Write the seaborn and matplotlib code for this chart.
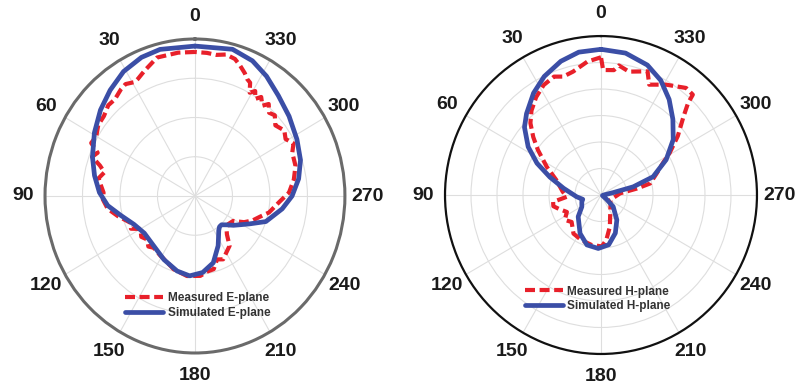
import numpy as np
import pandas as pd
import matplotlib
matplotlib.use("Agg")
import matplotlib.pyplot as plt
import seaborn as sns

sns.set_style("white")
plt.rcParams["font.family"] = ["Liberation Sans", "DejaVu Sans"]
plt.rcParams["font.weight"] = "bold"

# angle tick labels (degrees, counter-clockwise from the top)
angle_ticks = list(range(0, 360, 30))
angle_labels = [str(a) for a in angle_ticks]

# E-plane, simulated (deg, dB)
e_sim_deg = [0, 14, 22, 31, 40, 49, 59, 70, 79, 88, 96, 104, 114, 125, 139, 153,
             166, 176, 186, 196, 206, 211, 216, 220, 224, 229, 234, 239, 244, 251,
             262, 270, 279, 288, 298, 309, 319, 328, 336, 345]
e_sim_db = [-1.8, -1.5, -1.9, -3.0, -4.8, -6.6, -8.7, -10.9, -12.7, -14.5, -16.6,
            -19.6, -22.2, -23.5, -23.2, -21.8, -20.3, -19.6, -20.4, -22.3, -25.9,
            -27.8, -29.2, -29.8, -29.8, -28.8, -27.3, -25.8, -23.8, -20.0, -16.5,
            -14.1, -12.0, -10.4, -9.2, -7.7, -6.1, -4.0, -2.3, -1.3]

# E-plane, measured (deg, dB)
e_meas_deg = [0, 7, 16, 20, 23, 27, 29, 33, 36, 41, 45, 50, 55, 60, 64, 67, 70, 73,
              76, 80, 84, 88, 92, 98, 104, 112, 116, 120, 126, 131, 136, 140, 149,
              156, 163, 174, 184, 190, 195, 200, 205, 211, 216, 221, 225, 231, 238,
              243, 248, 253, 258, 266, 272, 279, 286, 293, 297, 301, 305, 310, 314,
              317, 320, 322, 325, 327, 329, 331, 333, 335, 337, 340, 343, 347, 351,
              355]
e_meas_db = [-3.3, -3.2, -3.3, -4.6, -5.4, -6.5, -6.8, -6.0, -6.4, -7.4, -7.3, -8.3,
             -8.5, -9.6, -9.2, -11.8, -10.8, -13.5, -15.1, -13.9, -14.8, -15.6,
             -15.4, -16.5, -18.8, -21.6, -21.0, -23.2, -22.3, -23.1, -22.1, -22.8,
             -22.2, -21.6, -20.5, -19.5, -19.6, -20.5, -20.7, -22.8, -22.2, -23.5,
             -24.3, -27.0, -28.1, -28.6, -28.0, -25.3, -23.4, -21.9, -19.8, -17.5,
             -14.9, -13.3, -12.1, -11.8, -10.5, -11.8, -10.9, -12.0, -10.4, -11.0,
             -9.4, -10.8, -9.2, -10.5, -8.8, -9.9, -7.6, -7.1, -6.0, -4.7, -3.5,
             -3.0, -3.6, -3.4]

# H-plane, simulated (deg, dB)
h_sim_deg = [0, 9, 17, 26, 34, 43, 49, 57, 64, 71, 80, 94, 103, 109, 121, 133, 151,
             164, 177, 189, 201, 213, 227, 233, 250, 270, 281, 284, 289, 298, 307,
             316, 324, 332, 340, 350]
h_sim_db = [-2.5, -2.7, -3.6, -5.1, -6.8, -9.0, -10.5, -13.3, -16.3, -19.6, -22.7,
            -25.3, -26.4, -26.1, -25.7, -24.0, -21.7, -20.2, -19.9, -20.5, -22.3,
            -24.4, -26.8, -28.7, -29.7, -29.5, -27.6, -23.6, -19.4, -15.8, -12.6,
            -10.1, -7.7, -5.5, -3.9, -2.8]

# H-plane, measured (deg, dB)
h_meas_deg = [0, 6, 13, 18, 22, 28, 34, 40, 45, 50, 55, 63, 72, 85, 93, 98, 103, 108,
              116, 124, 132, 144, 156, 169, 181, 187, 196, 207, 225, 242, 275, 280,
              283, 291, 297, 301, 307, 313, 316, 317, 321, 329, 336, 339, 347, 352,
              354, 359]
h_meas_db = [-4.0, -4.7, -6.1, -6.5, -5.9, -6.5, -7.7, -9.2, -10.8, -13.0, -15.2,
             -18.3, -21.0, -22.6, -23.4, -20.7, -20.6, -21.5, -22.7, -21.6, -22.4,
             -21.0, -20.7, -20.4, -20.3, -21.5, -23.8, -26.1, -27.4, -28.0, -26.3,
             -23.0, -20.3, -18.5, -16.6, -14.6, -11.5, -8.3, -5.9, -4.1, -4.0, -5.7,
             -7.2, -5.0, -6.1, -5.3, -6.3, -6.4]

RED = "#e8202a"
BLUE = "#3b4ea6"


def closed_frame(deg, gain):
    d = list(deg) + [deg[0] + 360]
    g = list(gain) + [gain[0]]
    return pd.DataFrame({"theta": np.deg2rad(d), "gain": g})


fig = plt.figure(figsize=(8.04, 3.92), dpi=100)
ax_e = fig.add_axes([0.056, 0.0995, 0.373, 0.801], projection="polar")
ax_h = fig.add_axes([0.5535, 0.097, 0.388, 0.811], projection="polar")


def draw_pattern(ax, meas_deg, meas_db, sim_deg, sim_db, meas_label, sim_label):
    sns.lineplot(data=closed_frame(meas_deg, meas_db), x="theta", y="gain",
                 sort=False, estimator=None, ax=ax, color=RED, linewidth=3.0,
                 linestyle=(0, (2.4, 1.1)), label=meas_label, zorder=3)
    sns.lineplot(data=closed_frame(sim_deg, sim_db), x="theta", y="gain",
                 sort=False, estimator=None, ax=ax, color=BLUE, linewidth=3.4,
                 label=sim_label, zorder=4)


def style_polar(ax, rmin, rings, edge_color, edge_width, legend_xy):
    ax.set_aspect("auto")
    ax.set_theta_zero_location("N")
    ax.set_theta_direction(1)
    ax.set_ylim(rmin, 0)
    ax.set_rgrids(rings, labels=[""] * len(rings))
    ax.set_thetagrids(angle_ticks, labels=angle_labels)
    for lab in ax.get_xticklabels():
        lab.set_fontsize(14)
        lab.set_fontweight("bold")
        lab.set_color("#1a1a1a")
    ax.grid(True, color="#dedede", linewidth=0.8)
    ax.spines["polar"].set_color(edge_color)
    ax.spines["polar"].set_linewidth(edge_width)
    ax.tick_params(axis="x", pad=9, length=0)
    ax.set_xlabel("")
    ax.set_ylabel("")
    leg = ax.legend(loc="center", bbox_to_anchor=legend_xy, frameon=False,
                    prop={"size": 8.5, "weight": "bold"}, handlelength=3.2,
                    handletextpad=0.4, labelspacing=0.25, borderaxespad=0)
    for t in leg.get_texts():
        t.set_color("#333333")


draw_pattern(ax_e, e_meas_deg, e_meas_db, e_sim_deg, e_sim_db,
             "Measured E-plane", "Simulated E-plane")
style_polar(ax_e, -40, [-30, -20, -10], "#6a6a6a", 2.2, (0.51, 0.15))

draw_pattern(ax_h, h_meas_deg, h_meas_db, h_sim_deg, h_sim_db,
             "Measured H-plane", "Simulated H-plane")
style_polar(ax_h, -30, [-25, -20, -15, -10, -5], "#111111", 1.6, (0.49, 0.173))

fig.savefig("out.png", dpi=100)
